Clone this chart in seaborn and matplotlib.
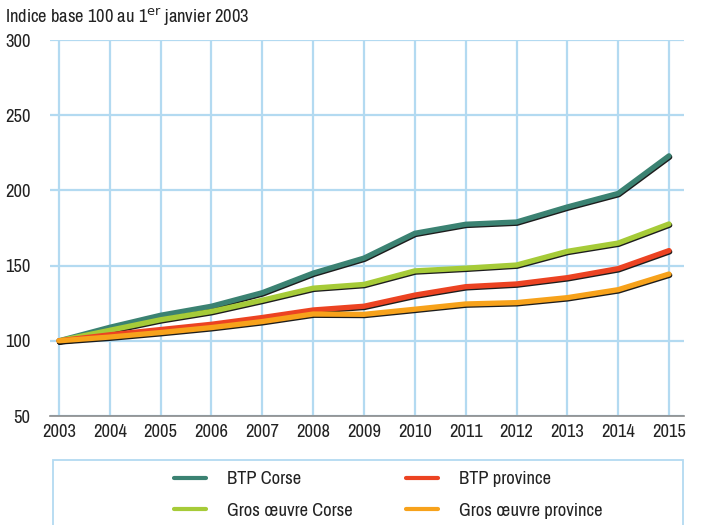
import matplotlib
matplotlib.use('Agg')
import matplotlib.pyplot as plt
import matplotlib.patheffects as pe
from matplotlib import font_manager
from matplotlib.patches import Rectangle
from matplotlib.lines import Line2D
import seaborn as sns
import pandas as pd

years = list(range(2003, 2016))
btp_corse = [100, 109, 117, 123, 132, 145, 155, 171.5, 177.5, 179, 189, 198, 223]
gros_corse = [100, 107, 114, 119.5, 127, 135, 137.5, 146.5, 148.3, 150.4, 159.5, 165, 177.7]
btp_province = [100, 104, 107.5, 111, 115.5, 120.5, 123, 130.4, 136, 137.8, 142, 148, 160]
gros_province = [100, 102.5, 105.5, 108.8, 112.8, 117.8, 117.6, 121, 124.5, 125.4, 128.7, 134, 144.4]

series = ["BTP Corse", "Gros \u0153uvre Corse", "BTP province", "Gros \u0153uvre province"]
colors = ["#3b8272", "#a6cb38", "#ec4322", "#f7a21b"]

df = pd.DataFrame({
    "annee": years * 4,
    "indice": btp_corse + gros_corse + btp_province + gros_province,
    "serie": sum([[s] * len(years) for s in series], []),
})

# look for a narrow sans face if one is installed
narrow = []
for f in font_manager.fontManager.ttflist:
    n = f.name.lower()
    if ('narrow' in n or 'condensed' in n) and f.name not in narrow:
        narrow.append(f.name)

sns.set_style("white")
plt.rcParams['font.family'] = narrow[:1] + ['Liberation Sans', 'DejaVu Sans']
fsize = 13.3 if narrow else 11.5

fig = plt.figure(figsize=(7.04, 5.25), dpi=100)
ax = fig.add_axes([0.071, 0.2076, 0.9006, 0.7162])

sns.lineplot(data=df, x="annee", y="indice", hue="serie", hue_order=series,
             palette=colors, linewidth=3.8, legend=False, ax=ax, zorder=3)
for ln in ax.get_lines():
    ln.set_solid_capstyle('round')
    ln.set_path_effects([pe.SimpleLineShadow(offset=(0.5, -0.9), shadow_color='#111111', alpha=0.95),
                         pe.Normal()])

ax.set_xlim(2002.823, 2015.295)
ax.set_ylim(50, 300)
ax.set_xticks(years)
ax.set_yticks([50, 100, 150, 200, 250, 300])
ax.grid(True, color='#b3daf1', linewidth=1.6, zorder=0)
ax.set_axisbelow(True)
for s in ['top', 'right', 'left']:
    ax.spines[s].set_visible(False)
ax.spines['bottom'].set_color('#8a8a8a')
ax.spines['bottom'].set_linewidth(1.2)
ax.tick_params(axis='both', length=0, labelsize=fsize, colors='#222222')
ax.tick_params(axis='y', pad=14)
ax.tick_params(axis='x', pad=6)
ax.set_xlabel("")
ax.set_ylabel("")

fig.text(0.007, 0.968, r"Indice base 100 au 1$^{\rm er}$ janvier 2003",
         fontsize=fsize, color='#222222', va='center', ha='left')

fig.patches.append(Rectangle((0.075, -0.05), 0.895, 0.174, transform=fig.transFigure,
                             fill=False, edgecolor='#b3daf1', linewidth=1.3))

# legend: two columns placed separately
handles = [Line2D([], [], color=c, linewidth=3.0) for c in colors]
hlen = 32 / (fsize * 100 / 72)
pad = 21 / (fsize * 100 / 72)
for i, x0 in enumerate([174, 406]):
    fig.legend(handles[2 * i:2 * i + 2], series[2 * i:2 * i + 2], frameon=False,
               loc='upper left', bbox_to_anchor=(x0 / 704, 1 - 471 / 525),
               fontsize=fsize, handlelength=hlen, handletextpad=pad,
               labelspacing=0.85, borderpad=0, borderaxespad=0,
               labelcolor='#222222')

fig.savefig("out.png", dpi=100)
